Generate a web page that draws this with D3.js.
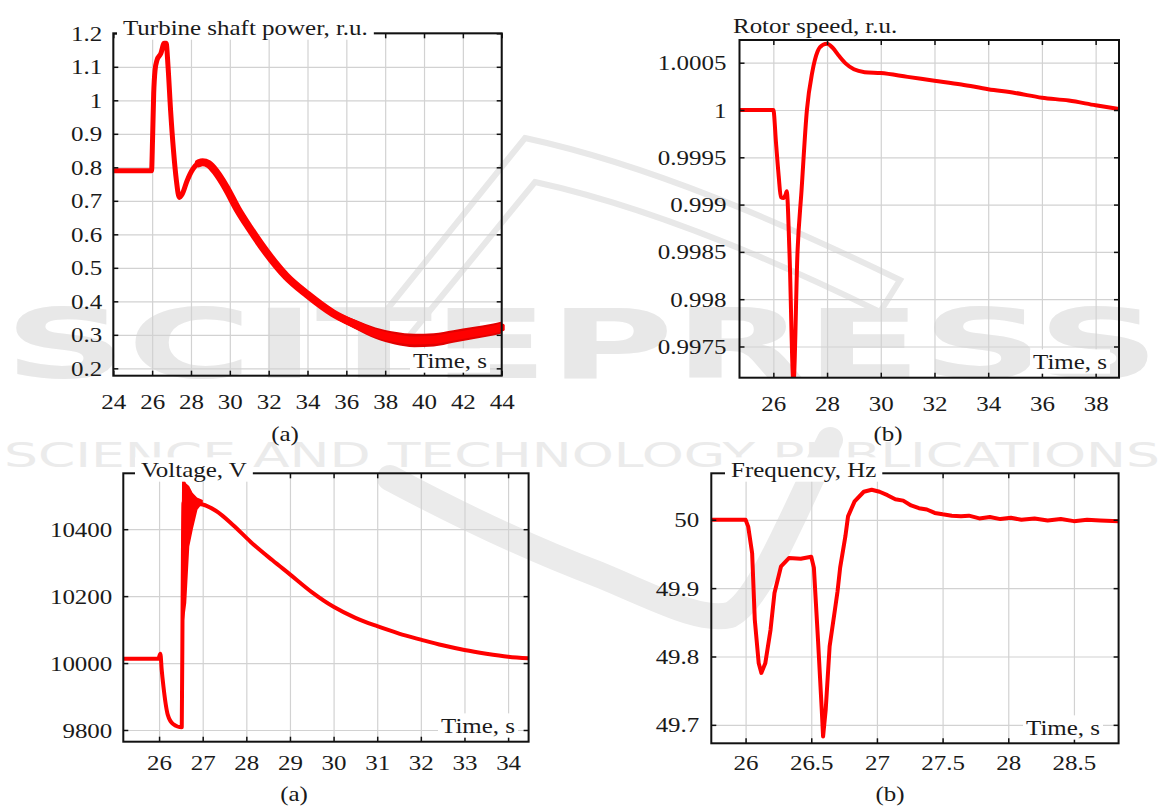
<!DOCTYPE html>
<html>
<head>
<meta charset="utf-8">
<script src="https://cdn.jsdelivr.net/npm/d3@7"></script>
<style>
  body { margin: 0; background: #fff; }
</style>
</head>
<body>
<svg id="chart" width="1164" height="808"></svg>
<script>
// ---- data ----
// (a) turbine shaft power
const powerTime = [24, 25, 25.97, 26.02, 26.08, 26.15, 26.25, 26.45, 26.62, 26.72, 26.82, 26.95, 27.1, 27.25, 27.4, 27.55, 27.8, 28.1, 28.4, 28.6, 28.9, 29.3, 29.8, 30.4, 31.0, 31.9, 32.9, 34.0, 35.3, 36.5, 37.5, 38.5, 39.5, 40.5, 41.5, 42.5, 43.5, 44];
const powerValue = [0.79, 0.79, 0.79, 0.88, 1.02, 1.09, 1.12, 1.14, 1.17, 1.17, 1.1, 0.97, 0.85, 0.76, 0.71, 0.72, 0.76, 0.795, 0.812, 0.815, 0.81, 0.785, 0.74, 0.675, 0.62, 0.545, 0.475, 0.42, 0.365, 0.33, 0.305, 0.29, 0.283, 0.285, 0.295, 0.305, 0.315, 0.322];
// half-width of the noisy band on the tail
const powerSpread = [0, 0, 0, 0, 0, 0, 0, 0, 0, 0, 0, 0, 0, 0, 0, 0, 0, 0, 0, 0, 0, 0, 0, 0, 0, 0, 0, 0.004, 0.01, 0.014, 0.017, 0.019, 0.02, 0.02, 0.019, 0.018, 0.018, 0.018];

// (b) rotor speed
const speedTime = [24.74, 25.5, 26.0, 26.1, 26.2, 26.28, 26.38, 26.45, 26.5, 26.6, 26.75, 26.9, 27.05, 27.25, 27.45, 27.65, 27.85, 28.0, 28.2, 28.45, 28.7, 29.0, 29.4, 30.0, 31.0, 32.0, 33.0, 34.0, 35.0, 36.0, 37.0, 38.0, 38.87];
const speedValue = [1.0, 1.0, 1.0, 0.99965, 0.9993, 0.99908, 0.99907, 0.9991, 0.99914, 0.9985, 0.99712, 0.9985, 0.99915, 1.0, 1.0004, 1.00062, 1.00069, 1.0007, 1.00066, 1.00057, 1.00049, 1.00043, 1.0004, 1.00039, 1.00035, 1.00031, 1.00027, 1.00022, 1.00018, 1.00013, 1.0001, 1.00005, 1.00001];

// (a) voltage
const voltTime = [25.18, 25.98, 26.03, 26.06, 26.1, 26.2, 26.32, 26.52, 26.54, 26.56, 26.7, 26.85, 27.0, 27.3, 27.7, 28.1, 28.6, 29.0, 29.5, 30.0, 30.5, 31.0, 31.5, 32.0, 32.5, 33.0, 33.5, 34.0, 34.47];
const voltValue = [10013, 10013, 10028, 9980, 9930, 9845, 9818, 9808, 10200, 10480, 10478, 10476, 10474, 10455, 10412, 10362, 10307, 10265, 10212, 10168, 10135, 10110, 10088, 10070, 10053, 10039, 10028, 10019, 10014];
// envelope of the fast oscillation after the jump
const voltOscTime = [26.53, 26.55, 26.6, 26.67, 26.75, 26.86, 26.98];
const voltOscHigh = [10200, 10549, 10535, 10527, 10507, 10492, 10485];
const voltOscLow = [10100, 10130, 10180, 10349, 10400, 10460, 10480];

// (b) frequency
const freqTime = [25.74, 26.0, 26.02, 26.05, 26.07, 26.1, 26.12, 26.15, 26.19, 26.22, 26.27, 26.33, 26.42, 26.5, 26.52, 26.55, 26.58, 26.59, 26.61, 26.64, 26.68, 26.7, 26.72, 26.76, 26.78, 26.83, 26.9, 26.96, 27.02, 27.08, 27.14, 27.2, 27.26, 27.32, 27.38, 27.44, 27.5, 27.57, 27.64, 27.7, 27.78, 27.86, 27.94, 28.02, 28.1, 28.2, 28.3, 28.4, 28.5, 28.6, 28.7, 28.84];
const freqValue = [50.0, 50.0, 49.99, 49.951, 49.854, 49.79, 49.776, 49.79, 49.839, 49.893, 49.932, 49.944, 49.943, 49.946, 49.93, 49.829, 49.722, 49.683, 49.722, 49.815, 49.868, 49.895, 49.93, 49.976, 50.005, 50.027, 50.041, 50.044, 50.041, 50.036, 50.03, 50.028, 50.021, 50.017, 50.015, 50.01, 50.008, 50.006, 50.005, 50.006, 50.002, 50.004, 50.001, 50.003, 50.0, 50.002, 49.999, 50.001, 49.998, 50.0, 49.999, 49.998];

// ---- ticks ----
const powerXTicks = [24, 26, 28, 30, 32, 34, 36, 38, 40, 42, 44];
const powerYTicks = [0.2, 0.3, 0.4, 0.5, 0.6, 0.7, 0.8, 0.9, 1, 1.1, 1.2];
const speedXTicks = [26, 28, 30, 32, 34, 36, 38];
const speedYTicks = [0.9975, 0.998, 0.9985, 0.999, 0.9995, 1, 1.0005];
const voltXTicks = [26, 27, 28, 29, 30, 31, 32, 33, 34];
const voltYTicks = [9800, 10000, 10200, 10400];
const freqXTicks = [26, 26.5, 27, 27.5, 28, 28.5];
const freqYTicks = [49.7, 49.8, 49.9, 50];

const FONT = 22;
const RED = '#ff0000';
const INK = '#1a1a1a';

const svg = d3.select('#chart');

// pick a Times-like face that is really installed
function hasFont(name) {
    const t = svg.append('text').style('font-size', '40px').text('0.9995 Time, s Wg');
    t.style('font-family', 'monospace');
    const w0 = t.node().getComputedTextLength();
    t.style('font-family', `"${name}", monospace`);
    const w1 = t.node().getComputedTextLength();
    t.remove();
    return Math.abs(w0 - w1) > 0.5;
}
const serifCandidates = ['Liberation Serif', 'Times New Roman', 'Tinos', 'Nimbus Roman', 'FreeSerif', 'DejaVu Serif'];
const SERIF = serifCandidates.find(hasFont) || 'serif';
const FAMILY = `"${SERIF}", serif`;

// horizontal stretch so the title runs as wide as in the picture
function textWidth(str) {
    const t = svg.append('text').style('font-family', FAMILY).style('font-size', FONT + 'px').text(str);
    const w = t.node().getComputedTextLength();
    t.remove();
    return w;
}
const STRETCH = 245 / textWidth('Turbine shaft power, r.u.');

// faint publisher watermark behind everything
const wm = svg.append('g').attr('id', 'watermark');
wm.append('path')
    .attr('d', 'M385,312 L525,138 C650,165 780,222 900,280 L880,312 C770,258 650,207 535,182 L410,335')
    .attr('fill', 'none').attr('stroke', '#e8e8e8').attr('stroke-width', 6);
wm.append('path')
    .attr('d', 'M390,478 C450,510 520,545 600,575 C660,600 700,622 730,615 C760,600 790,520 830,440')
    .attr('fill', 'none').attr('stroke', '#ebebeb').attr('stroke-width', 26).attr('stroke-linecap', 'round');
wm.append('text')
    .attr('x', 4).attr('y', 378)
    .attr('textLength', 1156).attr('lengthAdjust', 'spacingAndGlyphs')
    .style('font-family', '"DejaVu Sans", sans-serif').style('font-weight', 'bold')
    .style('font-size', '96px').attr('fill', '#e8e8e8')
    .text('SCITEPRESS');
wm.append('text')
    .attr('x', 4).attr('y', 467)
    .attr('textLength', 1156).attr('lengthAdjust', 'spacingAndGlyphs')
    .style('font-family', '"DejaVu Sans", sans-serif')
    .style('font-size', '34px').attr('fill', '#ebebeb')
    .text('SCIENCE AND TECHNOLOGY PUBLICATIONS');

function stretchedText(parent, str, x, y, anchor) {
    return parent.append('text')
        .attr('transform', `translate(${x},${y}) scale(${STRETCH},1)`)
        .attr('text-anchor', anchor || 'start')
        .style('font-family', FAMILY)
        .style('font-size', FONT + 'px')
        .attr('fill', INK)
        .text(str);
}

function drawPanel(p) {
    const w = p.right - p.left;
    const h = p.bottom - p.top;
    const x = d3.scaleLinear().domain(p.xDomain).range([0, w]);
    const y = d3.scaleLinear().domain(p.yDomain).range([h, 0]);

    const g = svg.append('g').attr('transform', `translate(${p.left},${p.top})`);

    // grid
    g.append('g')
        .call(d3.axisBottom(x).tickValues(p.xTicks).tickSize(h).tickFormat(''))
        .call(a => a.select('.domain').remove())
        .selectAll('line').attr('stroke', '#d2d2d2').attr('stroke-width', 1.2);
    g.append('g')
        .call(d3.axisRight(y).tickValues(p.yTicks).tickSize(w).tickFormat(''))
        .call(a => a.select('.domain').remove())
        .selectAll('line').attr('stroke', '#d2d2d2').attr('stroke-width', 1.2);

    // curve
    const clipId = 'clip-' + p.id;
    g.append('clipPath').attr('id', clipId)
        .append('rect').attr('x', -3).attr('y', 0).attr('width', w + 6).attr('height', h);
    const plot = g.append('g').attr('clip-path', `url(#${clipId})`);

    const pts = p.time.map((t, i) => ({ t: t, v: p.value[i], s: p.spread ? p.spread[i] : 0 }));
    const line = d3.line().curve(p.curve).x(d => x(d.t)).y(d => y(d.v));

    if (p.spread) {
        plot.append('path')
            .datum(pts.filter(d => d.s > 0))
            .attr('fill', '#e20000')
            .attr('d', d3.area().curve(d3.curveMonotoneX)
                .x(d => x(d.t)).y0(d => y(d.v - d.s)).y1(d => y(d.v + d.s)));
    }
    if (p.oscTime) {
        const osc = p.oscTime.map((t, i) => ({ t: t, hi: p.oscHigh[i], lo: p.oscLow[i] }));
        plot.append('path')
            .datum(osc)
            .attr('fill', RED)
            .attr('stroke', RED).attr('stroke-width', 2)
            .attr('d', d3.area().curve(d3.curveLinear)
                .x(d => x(d.t)).y0(d => y(d.lo)).y1(d => y(d.hi)));
    }
    plot.append('path')
        .datum(pts)
        .attr('fill', 'none')
        .attr('stroke', RED)
        .attr('stroke-width', p.lineWidth)
        .attr('stroke-linejoin', 'round')
        .attr('d', line);
    if (p.thickFrom !== undefined) {
        // the trace gets heavier once the slow swing starts
        plot.append('path')
            .datum(pts.filter(d => d.t >= p.thickFrom))
            .attr('fill', 'none')
            .attr('stroke', RED)
            .attr('stroke-width', p.thickWidth)
            .attr('stroke-linecap', 'round')
            .attr('d', line);
    }

    // frame
    g.append('rect').attr('width', w).attr('height', h)
        .attr('fill', 'none').attr('stroke', '#111').attr('stroke-width', 2);

    // small inward ticks on all sides
    const tickLen = 5;
    const tickGroups = [];
    tickGroups.push(g.append('g').call(d3.axisLeft(y).tickValues(p.yTicks).tickSize(-tickLen).tickFormat('')));
    tickGroups.push(g.append('g').attr('transform', `translate(${w},0)`)
        .call(d3.axisRight(y).tickValues(p.yTicks).tickSize(-tickLen).tickFormat('')));
    tickGroups.push(g.append('g').attr('transform', `translate(0,${h})`)
        .call(d3.axisBottom(x).tickValues(p.xTicks).tickSize(-tickLen).tickFormat('')));
    tickGroups.push(g.append('g')
        .call(d3.axisTop(x).tickValues(p.xTicks).tickSize(-tickLen).tickFormat('')));
    tickGroups.forEach(tg => {
        tg.select('.domain').remove();
        tg.selectAll('line').attr('stroke', '#111').attr('stroke-width', 1.5);
    });

    // tick labels
    const fmt = d3.format('~g');
    g.append('g')
        .call(d3.axisLeft(y).tickValues(p.yTicks).tickSize(0).tickPadding(p.yPad / STRETCH).tickFormat(fmt))
        .call(a => a.select('.domain').remove())
        .selectAll('text')
        .attr('transform', `scale(${STRETCH},1)`)
        .style('font-family', FAMILY)
        .style('font-size', FONT + 'px').attr('fill', INK);
    g.append('g').attr('transform', `translate(0,${h})`)
        .call(d3.axisBottom(x).tickValues(p.xTicks).tickSize(0).tickPadding(p.xPad).tickFormat(fmt))
        .call(a => a.select('.domain').remove())
        .selectAll('text')
        .attr('transform', `scale(${STRETCH},1)`)
        .style('font-family', FAMILY)
        .style('font-size', FONT + 'px').attr('fill', INK);

    // "Time, s" label with white backing
    const timeLab = stretchedText(g, 'Time, s', p.timeX - p.left, p.timeY - p.top, 'end');
    const tb = timeLab.node().getBBox();
    g.insert('rect', function() { return timeLab.node(); })
        .attr('x', p.timeX - p.left - tb.width * STRETCH - 3)
        .attr('y', p.timeY - p.top + tb.y)
        .attr('width', tb.width * STRETCH + 6)
        .attr('height', tb.height)
        .attr('fill', '#fff');

    // title
    const title = stretchedText(g, p.title, p.titleX - p.left, p.titleY - p.top, 'start');
    if (p.titleBox) {
        const bb = title.node().getBBox();
        g.insert('rect', function() { return title.node(); })
            .attr('x', p.titleX - p.left - 6)
            .attr('y', p.titleY - p.top + bb.y)
            .attr('width', bb.width * STRETCH + 12)
            .attr('height', bb.height)
            .attr('fill', '#fff');
    }

    // caption
    svg.append('text')
        .attr('transform', `translate(${p.capX},${p.capY}) scale(${STRETCH},1)`)
        .attr('text-anchor', 'middle')
        .style('font-family', FAMILY)
        .style('font-size', FONT + 'px').attr('fill', INK)
        .text(p.caption);
}

drawPanel({
    id: 'power', left: 113.3, right: 501.7, top: 33.3, bottom: 375.7,
    xDomain: [24, 44], yDomain: [0.178, 1.2],
    xTicks: powerXTicks, yTicks: powerYTicks,
    time: powerTime, value: powerValue, spread: powerSpread,
    curve: d3.curveMonotoneX, lineWidth: 5, thickFrom: 28.2, thickWidth: 8,
    yPad: 11, xPad: 18,
    title: 'Turbine shaft power, r.u.', titleX: 123, titleY: 35, titleBox: true,
    timeX: 487, timeY: 368,
    caption: '(a)', capX: 285, capY: 441
});

drawPanel({
    id: 'speed', left: 739.5, right: 1119, top: 40, bottom: 377.7,
    xDomain: [24.74, 38.87], yDomain: [0.99717, 1.00074],
    xTicks: speedXTicks, yTicks: speedYTicks,
    time: speedTime, value: speedValue,
    curve: d3.curveMonotoneX, lineWidth: 4,
    yPad: 13, xPad: 18,
    title: 'Rotor speed, r.u.', titleX: 733, titleY: 33, titleBox: false,
    timeX: 1107, timeY: 369,
    caption: '(b)', capX: 888, capY: 441
});

drawPanel({
    id: 'volt', left: 123.3, right: 528.6, top: 473.3, bottom: 741.7,
    xDomain: [25.18, 34.47], yDomain: [9765, 10567],
    xTicks: voltXTicks, yTicks: voltYTicks,
    time: voltTime, value: voltValue,
    oscTime: voltOscTime, oscHigh: voltOscHigh, oscLow: voltOscLow,
    curve: d3.curveMonotoneX, lineWidth: 4,
    yPad: 11, xPad: 13,
    title: 'Voltage, V', titleX: 141, titleY: 477, titleBox: true,
    timeX: 515, timeY: 733,
    caption: '(a)', capX: 294, capY: 801
});

drawPanel({
    id: 'freq', left: 711.3, right: 1118.6, top: 473.3, bottom: 743.3,
    xDomain: [25.739, 28.84], yDomain: [49.673, 50.068],
    xTicks: freqXTicks, yTicks: freqYTicks,
    time: freqTime, value: freqValue,
    curve: d3.curveLinear, lineWidth: 4,
    yPad: 12, xPad: 11,
    title: 'Frequency, Hz', titleX: 731, titleY: 477, titleBox: true,
    timeX: 1100, timeY: 735,
    caption: '(b)', capX: 890, capY: 801
});
</script>
</body>
</html>
